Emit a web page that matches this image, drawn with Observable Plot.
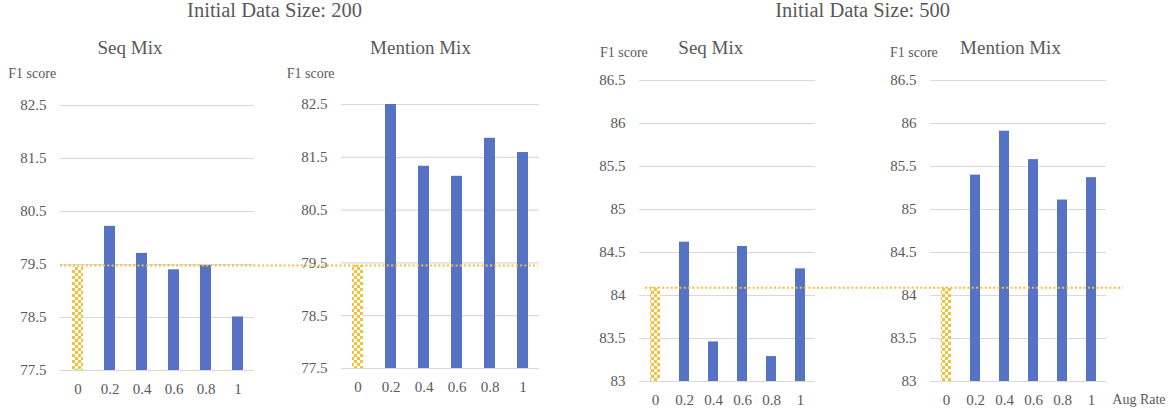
<!DOCTYPE html>
<html>
<head>
<meta charset="utf-8">
<script src="https://cdn.jsdelivr.net/npm/d3@7"></script>
<script src="https://cdn.jsdelivr.net/npm/@observablehq/plot@0.6"></script>
<style>
  html, body { margin: 0; padding: 0; background: #fff; }
  #chart { position: relative; width: 1173px; height: 414px; font-family: "Liberation Serif", "Times New Roman", serif; color: #595959; }
  #chart svg { position: absolute; left: 0; top: 0; }
  .lbl { position: absolute; white-space: nowrap; line-height: 1; font-family: "Liberation Serif", "Times New Roman", serif; color: #595959; }
</style>
</head>
<body>
<svg width="0" height="0" style="position:absolute">
  <defs>
    <pattern id="checker" width="6" height="6" patternUnits="userSpaceOnUse">
      <rect width="6" height="6" fill="#ffffff"/>
      <rect width="3" height="3" fill="#F6C13A"/>
      <rect x="3" y="3" width="3" height="3" fill="#F6C13A"/>
    </pattern>
  </defs>
</svg>
<div id="chart"></div>
<script>
// ---- data ----
const rates = ["0", "0.2", "0.4", "0.6", "0.8", "1"];
const seqMix200 = [79.45, 80.22, 79.71, 79.40, 79.48, 78.51];
const mentionMix200 = [79.45, 82.50, 81.33, 81.14, 81.86, 81.59];
const seqMix500 = [84.09, 84.62, 83.46, 84.57, 83.29, 84.31];
const mentionMix500 = [84.09, 85.40, 85.91, 85.58, 85.11, 85.37];
const ticks200 = [77.5, 78.5, 79.5, 80.5, 81.5, 82.5];
const ticks500 = [83, 83.5, 84, 84.5, 85, 85.5, 86, 86.5];
const groupTitles = ["Initial Data Size: 200", "Initial Data Size: 500"];
const panelTitles = ["Seq Mix", "Mention Mix", "Seq Mix", "Mention Mix"];
const yLabel = "F1 score";
const xLabel = "Aug Rate";

const W = 1173, H = 414;
const FONT = "'Liberation Serif', 'Times New Roman', serif";
const chart = document.getElementById("chart");

function panel(values, ticks, frame, rule) {
  const data = rates.map((r, i) => ({rate: r, f1: values[i], base: i === 0}));
  const lo = ticks[0], hi = ticks[ticks.length - 1];
  const marks = [
    Plot.ruleY(ticks, {stroke: "#D9D9D9", strokeWidth: 1.2}),
    Plot.barY(data.filter(d => !d.base), {x: "rate", y1: lo, y2: "f1", fill: "#5572C4"}),
    Plot.barY(data.filter(d => d.base), {x: "rate", y1: lo, y2: "f1", fill: "url(#checker)"})
  ];
  if (rule) {
    marks.push(Plot.ruleY([values[0]], {
      stroke: "#F5BE36", strokeWidth: 2, strokeDasharray: "2 2.3",
      insetLeft: rule[0], insetRight: rule[1]
    }));
  }
  const svg = Plot.plot({
    width: W, height: H,
    marginLeft: frame.left, marginRight: W - frame.right,
    marginTop: frame.top, marginBottom: H - frame.bottom,
    style: {background: "transparent", overflow: "visible", fontFamily: FONT, fontSize: "15px", color: "#595959"},
    x: {type: "band", domain: rates, paddingInner: 0.67, paddingOuter: 0.335, tickSize: 0, tickPadding: 13, label: null},
    y: {domain: [lo, hi], ticks: ticks, tickSize: 0, tickPadding: 14, label: null, tickFormat: d => String(d)},
    marks
  });
  const s = d3.select(svg);
  s.selectAll("g").attr("font-family", null).attr("font-size", null);
  s.selectAll("text")
    .attr("font-family", FONT)
    .attr("font-size", 15)
    .style("font-family", FONT)
    .style("font-size", "15px")
    .attr("fill", "#595959");
  chart.appendChild(svg);
}

panel(seqMix200, ticks200, {left: 60, right: 254, top: 105, bottom: 370}, null);
panel(mentionMix200, ticks200, {left: 341, right: 539, top: 104, bottom: 368}, [-281, 1]);
panel(seqMix500, ticks500, {left: 639, right: 815, top: 80, bottom: 381}, null);
panel(mentionMix500, ticks500, {left: 930, right: 1106, top: 80, bottom: 381}, [-285, -17]);

// ---- text labels (baseline-positioned) ----
function label(text, x, baseline, size, anchor) {
  const d = document.createElement("div");
  d.className = "lbl";
  d.textContent = text;
  d.style.fontSize = size + "px";
  d.style.top = (baseline - 0.8375 * size) + "px";
  d.style.left = x + "px";
  if (anchor === "middle") d.style.transform = "translateX(-50%)";
  chart.appendChild(d);
}
label(groupTitles[0], 274.5, 17.5, 20.5, "middle");
label(groupTitles[1], 862.7, 17.5, 20.5, "middle");
label(panelTitles[0], 130, 54.3, 19, "middle");
label(panelTitles[1], 420.5, 54.3, 19, "middle");
label(panelTitles[2], 710.8, 54.3, 19, "middle");
label(panelTitles[3], 1010.5, 54.3, 19, "middle");
label(yLabel, 8.3, 79, 14, "start");
label(yLabel, 286.7, 79, 14, "start");
label(yLabel, 600, 58, 14, "start");
label(yLabel, 890, 58, 14, "start");
label(xLabel, 1112.3, 404.3, 14, "start");
</script>
</body>
</html>
